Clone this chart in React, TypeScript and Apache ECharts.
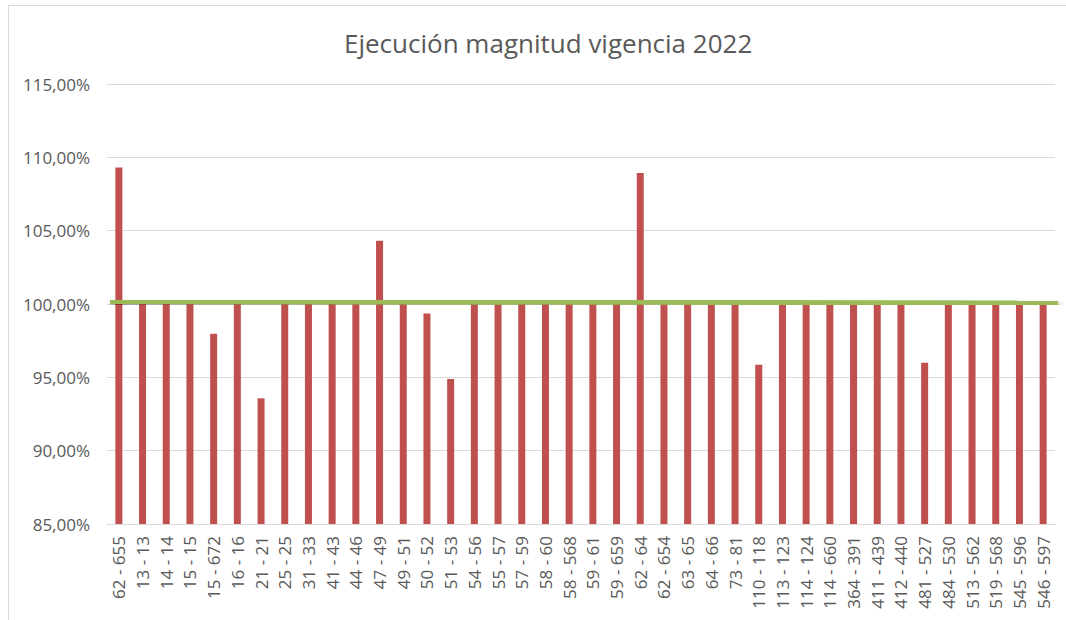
import React, { useEffect, useRef } from "react";
import * as echarts from "echarts";

const title = "Ejecución magnitud vigencia 2022";

const categories = [
  "62 - 655", "13 - 13", "14 - 14", "15 - 15", "15 - 672", "16 - 16", "21 - 21", "25 - 25",
  "31 - 33", "41 - 43", "44 - 46", "47 - 49", "49 - 51", "50 - 52", "51 - 53", "54 - 56",
  "55 - 57", "57 - 59", "58 - 60", "58 - 568", "59 - 61", "59 - 659", "62 - 64", "62 - 654",
  "63 - 65", "64 - 66", "73 - 81", "110 - 118", "113 - 123", "114 - 124", "114 - 660", "364 - 391",
  "411 - 439", "412 - 440", "481 - 527", "484 - 530", "513 - 562", "519 - 568", "545 - 596", "546 - 597",
];

const values = [
  109.31, 100, 100, 100, 97.97, 100, 93.57, 100,
  100, 100, 100, 104.31, 100, 99.36, 94.88, 100,
  100, 100, 100, 100, 100, 100, 108.94, 100,
  100, 100, 100, 95.86, 100, 100, 100, 100,
  100, 100, 96.0, 100, 100, 100, 100, 100,
];

const yMin = 85;
const yMax = 115;
const yStep = 5;

const FONT = "'Open Sans', sans-serif";

export default function App() {
  const ref = useRef<HTMLDivElement>(null);

  useEffect(() => {
    document.body.style.margin = "0";
    const chart = echarts.init(ref.current!, null, { renderer: "svg" });
    chart.setOption({
      animation: false,
      backgroundColor: "#ffffff",
      textStyle: { fontFamily: FONT },
      title: {
        text: title,
        left: 339,
        top: 25,
        textStyle: { fontFamily: FONT, fontSize: 26, fontWeight: "normal", color: "#595959" },
      },
      grid: { left: 107, right: 11, top: 84, bottom: 96, containLabel: false },
      xAxis: {
        type: "category",
        data: categories,
        axisTick: { show: false },
        axisLine: { lineStyle: { color: "#D9D9D9", width: 1 } },
        axisLabel: {
          rotate: 90,
          interval: 0,
          fontSize: 17,
          color: "#595959",
          margin: 12,
          fontFamily: FONT,
        },
      },
      yAxis: {
        type: "value",
        min: yMin,
        max: yMax,
        interval: yStep,
        axisLine: { show: false },
        axisTick: { show: false },
        splitLine: { lineStyle: { color: "#D9D9D9", width: 1 } },
        axisLabel: {
          fontSize: 17,
          color: "#595959",
          margin: 17,
          fontFamily: FONT,
          formatter: (v: number) => v.toFixed(2).replace(".", ",") + "%",
        },
      },
      series: [
        {
          type: "bar",
          data: values,
          barWidth: 7,
          itemStyle: { color: "#C0504D" },
        },
      ],
      graphic: [
        {
          type: "rect",
          shape: { x: 8.5, y: 5.5, width: 1100, height: 700 },
          style: { fill: "none", stroke: "#D9D9D9", lineWidth: 1 },
          silent: true,
          z: 0,
        },
        {
          type: "line",
          shape: { x1: 110, y1: 301.5, x2: 1058, y2: 303 },
          style: {
            stroke: "#9BBB59",
            lineWidth: 5,
            shadowBlur: 5,
            shadowColor: "rgba(0,0,0,0.45)",
            shadowOffsetX: 2,
            shadowOffsetY: 3,
          },
          silent: true,
          z: 100,
        },
      ],
    });
    return () => chart.dispose();
  }, []);

  return <div ref={ref} style={{ width: 1066, height: 620 }} />;
}
